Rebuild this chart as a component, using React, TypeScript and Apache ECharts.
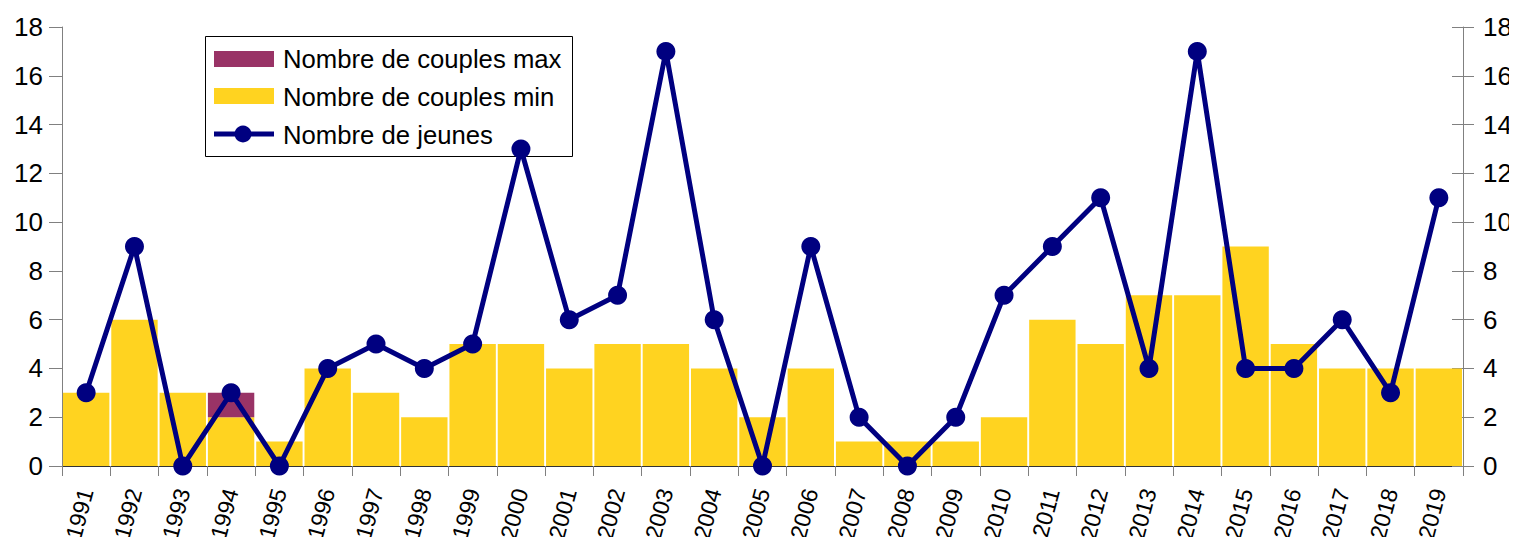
import React, { useEffect, useRef } from "react";
import * as echarts from "echarts";

const years = [
  "1991", "1992", "1993", "1994", "1995", "1996", "1997", "1998", "1999", "2000",
  "2001", "2002", "2003", "2004", "2005", "2006", "2007", "2008", "2009", "2010",
  "2011", "2012", "2013", "2014", "2015", "2016", "2017", "2018", "2019",
];
const couplesMin = [3, 6, 3, 2, 1, 4, 3, 2, 5, 5, 4, 5, 5, 4, 2, 4, 1, 1, 1, 2, 6, 5, 7, 7, 9, 5, 4, 4, 4];
const couplesMax = [3, 6, 3, 3, 1, 4, 3, 2, 5, 5, 4, 5, 5, 4, 2, 4, 1, 1, 1, 2, 6, 5, 7, 7, 9, 5, 4, 4, 4];
const jeunes = [3, 9, 0, 3, 0, 4, 5, 4, 5, 13, 6, 7, 17, 6, 0, 9, 2, 0, 2, 7, 9, 11, 4, 17, 4, 4, 6, 3, 11];
const legendNames = ["Nombre de couples max", "Nombre de couples min", "Nombre de jeunes"];

const FONT = "Liberation Sans, Arial, sans-serif";
const AXIS_GRAY = "#808080";
const YELLOW = "#ffd320";
const PURPLE = "#993366";
const NAVY = "#000080";

export default function App() {
  const ref = useRef<HTMLDivElement>(null);
  useEffect(() => {
    if (!ref.current) return;
    const chart = echarts.init(ref.current, undefined, { renderer: "svg" });
    const extra = couplesMax.map((v, i) => v - couplesMin[i]);
    const yBase = {
      type: "value",
      min: 0,
      max: 18,
      interval: 2,
      splitLine: { show: false },
    };
    const legendText = (name: string, y: number) => ({
      type: "text",
      x: 283,
      y,
      style: {
        text: name,
        fontSize: 25.7,
        fontFamily: FONT,
        fill: "#000",
        verticalAlign: "middle",
        align: "left",
      },
    });
    chart.setOption({
      animation: false,
      textStyle: { fontFamily: FONT },
      grid: {
        left: 62,
        right: 54,
        top: 27,
        bottom: 79,
        containLabel: false,
        outerBoundsMode: "none",
      },
      xAxis: {
        type: "category",
        data: years,
        boundaryGap: true,
        axisLine: { lineStyle: { color: "#333", width: 1 } },
        axisTick: { show: true, length: 10, lineStyle: { color: AXIS_GRAY } },
        axisLabel: {
          rotate: 75,
          fontSize: 23,
          color: "#000",
          fontFamily: FONT,
          margin: 23,
          interval: 0,
        },
      },
      yAxis: [
        {
          ...yBase,
          position: "left",
          axisLine: { show: true, lineStyle: { color: AXIS_GRAY } },
          axisTick: { show: true, length: 13, lineStyle: { color: AXIS_GRAY } },
          axisLabel: { fontSize: 26, color: "#000", fontFamily: FONT, margin: 19 },
        },
        {
          ...yBase,
          position: "right",
          axisLine: { show: true, lineStyle: { color: AXIS_GRAY } },
          axisTick: { show: true, length: 11, lineStyle: { color: AXIS_GRAY } },
          axisLabel: { fontSize: 26, color: "#000", fontFamily: FONT, margin: 20 },
        },
        {
          ...yBase,
          position: "right",
          offset: 0,
          axisLine: { show: false },
          axisTick: { show: true, inside: true, length: 11, lineStyle: { color: AXIS_GRAY } },
          axisLabel: { show: false },
        },
      ],
      graphic: [
        {
          type: "group",
          z: 100,
          children: [
            {
              type: "rect",
              shape: { x: 205.5, y: 36.5, width: 367, height: 120 },
              style: { fill: "#fff", stroke: "#000", lineWidth: 1 },
            },
            { type: "rect", shape: { x: 214, y: 51, width: 60, height: 16 }, style: { fill: PURPLE } },
            { type: "rect", shape: { x: 214, y: 88, width: 60, height: 16 }, style: { fill: YELLOW } },
            {
              type: "line",
              shape: { x1: 214, y1: 134, x2: 274, y2: 134 },
              style: { stroke: NAVY, lineWidth: 5 },
            },
            { type: "circle", shape: { cx: 243, cy: 134, r: 8.5 }, style: { fill: NAVY } },
            legendText(legendNames[0], 59),
            legendText(legendNames[1], 97),
            legendText(legendNames[2], 135),
          ],
        },
      ],
      series: [
        {
          name: legendNames[1],
          type: "bar",
          stack: "couples",
          data: couplesMin,
          barCategoryGap: "4%",
          itemStyle: { color: YELLOW },
          z: 1,
        },
        {
          name: legendNames[0],
          type: "bar",
          stack: "couples",
          data: extra,
          barCategoryGap: "4%",
          itemStyle: { color: PURPLE },
          z: 1,
        },
        {
          name: legendNames[2],
          type: "line",
          data: jeunes,
          symbol: "circle",
          symbolSize: 19,
          lineStyle: { color: NAVY, width: 5 },
          itemStyle: { color: NAVY },
          z: 5,
        },
      ],
    });
    return () => chart.dispose();
  }, []);
  return <div ref={ref} style={{ width: 1517, height: 545, margin: -8 }} />;
}
